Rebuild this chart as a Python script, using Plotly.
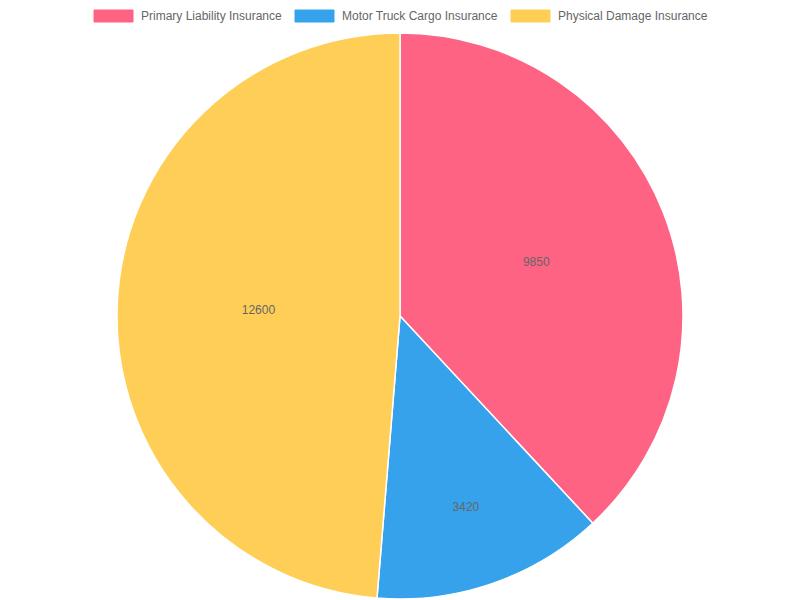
import plotly.graph_objects as go

# pie data
labels = ['Primary Liability Insurance', 'Motor Truck Cargo Insurance', 'Physical Damage Insurance']
values = [9850, 3420, 12600]
colors = ['#FF6384', '#36A2EB', '#FFCE56']

W, H = 800, 600
OFF = 8  # page body margin pushes the plot 8px right and down

fig = go.Figure()
fig.add_trace(go.Pie(
    labels=labels, values=values,
    sort=False, direction='clockwise', rotation=0,
    marker=dict(colors=colors, line=dict(color='white', width=1.5)),
    texttemplate='%{value:.0f}', textposition='inside', insidetextorientation='horizontal',
    textfont=dict(color='#666666', size=12, family='Liberation Sans, Arial, sans-serif'),
    hoverinfo='label+value',
    domain=dict(x=[0, (W - 2 * OFF) / W], y=[(H - 33 - 566 + OFF) / H, (H - 33 + OFF) / H]),
    showlegend=False,
))

# legend drawn by hand to look like the original boxes
box_x = [94, 295, 511]
text_x = [139, 340, 556]
for i, lab in enumerate(labels):
    fig.add_shape(type='rect', xref='paper', yref='paper',
                  x0=(box_x[i] - OFF) / W, x1=(box_x[i] + 39 - OFF) / W,
                  y0=1 - (22 - OFF) / H, y1=1 - (10 - OFF) / H,
                  fillcolor=colors[i], line=dict(color=colors[i], width=1))
    fig.add_annotation(x=(text_x[i] - OFF) / W, y=1 - (16 - OFF) / H, xref='paper', yref='paper',
                       text=lab, showarrow=False, xanchor='left', yanchor='middle',
                       font=dict(color='#666666', size=12, family='Liberation Sans, Arial, sans-serif'))

fig.update_layout(
    width=W, height=H,
    margin=dict(l=0, r=0, t=0, b=0),
    paper_bgcolor='white', plot_bgcolor='white',
)

fig.write_html("out.html")
